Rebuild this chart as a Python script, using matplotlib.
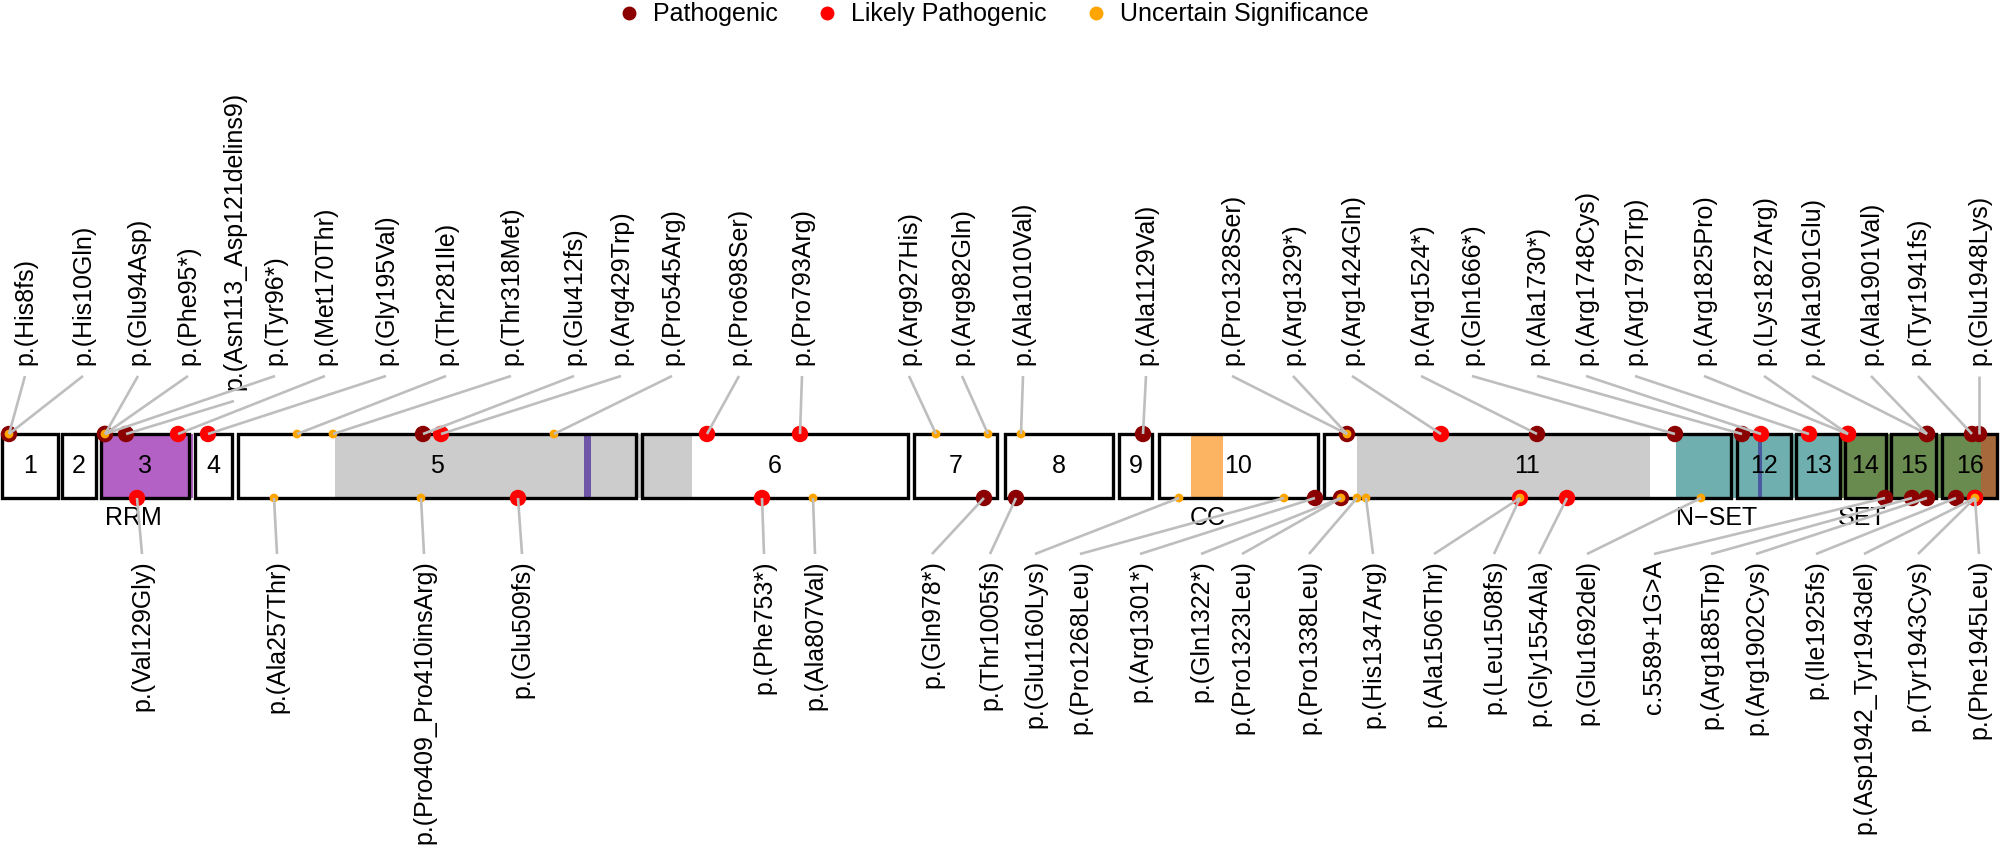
import matplotlib
matplotlib.use("Agg")
import matplotlib.pyplot as plt
from matplotlib.patches import Rectangle
from matplotlib.lines import Line2D

plt.rcParams['font.family'] = ['Liberation Sans', 'DejaVu Sans']

# ---------------- data (positions in plot units along the protein track) -------------
exon_names = [str(i) for i in range(1, 17)]
exon_start = [2, 62, 101, 195, 238, 642, 914, 1005, 1119, 1159, 1324, 1737, 1796, 1845, 1891, 1942]
exon_end = [58, 96, 189, 232, 636, 908, 997, 1113, 1152, 1318, 1731, 1791, 1840, 1886, 1936, 1997]

domain_start = [101, 335, 1357, 584, 1191, 1676, 1758, 1842, 1981]
domain_end = [193, 692, 1650, 591, 1223, 1840, 1762, 1981, 1997]
domain_color = ['#B361C4', '#CCCCCC', '#CCCCCC', '#6E55A8', '#FDB462',
                '#70AFAF', '#4A5AA0', '#698B50', '#A5693C']

domain_labels = ['RRM', 'CC', 'N\u2212SET', 'SET']
domain_label_x = [133, 1208, 1717, 1862]

top_labels = ["p.(His8fs)", "p.(His10Gln)", "p.(Glu94Asp)", "p.(Phe95*)",
              "p.(Asn113_Asp121delins9)", "p.(Tyr96*)", "p.(Met170Thr)", "p.(Gly195Val)",
              "p.(Thr281Ile)", "p.(Thr318Met)", "p.(Glu412fs)", "p.(Arg429Trp)",
              "p.(Pro545Arg)", "p.(Pro698Ser)", "p.(Pro793Arg)", "p.(Arg927His)",
              "p.(Arg982Gln)", "p.(Ala1010Val)", "p.(Ala1129Val)", "p.(Pro1328Ser)",
              "p.(Arg1329*)", "p.(Arg1424Gln)", "p.(Arg1524*)", "p.(Gln1666*)",
              "p.(Ala1730*)", "p.(Arg1748Cys)", "p.(Arg1792Trp)", "p.(Arg1825Pro)",
              "p.(Lys1827Arg)", "p.(Ala1901Glu)", "p.(Ala1901Val)", "p.(Tyr1941fs)",
              "p.(Glu1948Lys)"]
top_label_x = [25, 83, 138, 188, 234, 275, 325, 386, 446, 511, 574, 621, 672, 739, 802,
               909, 962, 1023, 1146, 1232, 1293, 1352, 1421, 1472, 1537, 1586, 1635,
               1704, 1764, 1812, 1871, 1918, 1979]
top_pos = [9, 9, 105, 105, 126, 105, 178, 208, 297, 333, 423, 441, 554, 707, 800, 936,
           988, 1021, 1143, 1347, 1347, 1441, 1537, 1675, 1742, 1761, 1809, 1848, 1848,
           1927, 1927, 1972, 1979]
top_class = ["P", "US", "US", "P", "P", "P", "LP", "LP", "US", "US", "P", "LP", "US",
             "LP", "LP", "US", "US", "US", "P", "US", "P", "LP", "P", "P", "P", "LP",
             "LP", "LP", "LP", "P", "P", "P", "P"]

bottom_labels = ["p.(Val129Gly)", "p.(Ala257Thr)", "p.(Pro409_Pro410insArg)", "p.(Glu509fs)",
                 "p.(Phe753*)", "p.(Ala807Val)", "p.(Gln978*)", "p.(Thr1005fs)",
                 "p.(Glu1160Lys)", "p.(Pro1268Leu)", "p.(Arg1301*)", "p.(Gln1322*)",
                 "p.(Pro1323Leu)", "p.(Pro1338Leu)", "p.(His1347Arg)", "p.(Ala1506Thr)",
                 "p.(Leu1508fs)", "p.(Gly1554Ala)", "p.(Glu1692del)", "c.5589+1G>A",
                 "p.(Arg1885Trp)", "p.(Arg1902Cys)", "p.(Ile1925fs)",
                 "p.(Asp1942_Tyr1943del)", "p.(Tyr1943Cys)", "p.(Phe1945Leu)"]
bottom_label_x = [142, 277, 424, 522, 764, 815, 932, 990, 1035, 1080, 1140, 1201, 1242,
                  1309, 1373, 1434, 1494, 1539, 1587, 1654, 1711, 1756, 1816, 1864,
                  1918, 1979]
bottom_pos = [137, 274, 421, 518, 762, 813, 984, 1016, 1179, 1284, 1315, 1341, 1341,
              1357, 1366, 1520, 1520, 1567, 1701, 1885, 1912, 1927, 1956, 1975, 1975, 1975]
bottom_class = ["LP", "US", "US", "LP", "LP", "US", "P", "P", "US", "US", "P", "P", "US",
                "US", "US", "US", "LP", "LP", "US", "P", "P", "P", "P", "P", "LP", "US"]

class_order = ["P", "LP", "US"]
class_name = {"P": "Pathogenic", "LP": "Likely Pathogenic", "US": "Uncertain Significance"}
class_color = {"P": "#8B0000", "LP": "#FF0000", "US": "#FFA500"}
class_size = {"P": 140, "LP": 140, "US": 40}

# ---------------- layout ----------------
W, H = 2000, 846
fig = plt.figure(figsize=(W / 100, H / 100), dpi=100)
ax = fig.add_axes([0, 0, 1, 1])
ax.set_xlim(0, W)
ax.set_ylim(H, 0)
ax.axis('off')

box_top, box_bot = 434, 498
box_mid = (box_top + box_bot) / 2
top_text_y = 365
bot_text_y = 560
bot_line_y = 554
fs = 18

# domains
for x0, x1, c in zip(domain_start, domain_end, domain_color):
    ax.add_patch(Rectangle((x0, box_top), x1 - x0, box_bot - box_top,
                           facecolor=c, edgecolor='none', zorder=1))

# exons
for name, x0, x1 in zip(exon_names, exon_start, exon_end):
    ax.add_patch(Rectangle((x0, box_top), x1 - x0, box_bot - box_top,
                           facecolor='none', edgecolor='black', lw=2.4, zorder=2))
    ax.text((x0 + x1) / 2, box_mid, name, ha='center', va='center', fontsize=18, zorder=3)

for lab, x in zip(domain_labels, domain_label_x):
    ax.text(x, 518, lab, ha='center', va='center', fontsize=18, zorder=3)

# top variants
for lab, lx, px in zip(top_labels, top_label_x, top_pos):
    ty = top_text_y + (25 if 'delins' in lab else 0)
    ax.text(lx, ty, lab, rotation=90, ha='center', va='bottom', fontsize=fs)
    ax.plot([lx, px], [ty + 11, box_top], color='#BEBEBE', lw=1.9, zorder=6,
            solid_capstyle='butt')

# bottom variants
for lab, lx, px in zip(bottom_labels, bottom_label_x, bottom_pos):
    ax.text(lx, bot_text_y, lab, rotation=90, ha='center', va='top', fontsize=fs)
    ax.plot([px, lx], [box_bot, bot_line_y], color='#BEBEBE', lw=1.9, zorder=6,
            solid_capstyle='butt')

# markers
for cls in class_order:
    xs = [p for p, c in zip(top_pos, top_class) if c == cls]
    ax.scatter(xs, [box_top] * len(xs), s=class_size[cls], color=class_color[cls],
               edgecolors='none', zorder=5)
    xs = [p for p, c in zip(bottom_pos, bottom_class) if c == cls]
    ax.scatter(xs, [box_bot] * len(xs), s=class_size[cls], color=class_color[cls],
               edgecolors='none', zorder=5)

handles = [Line2D([], [], marker='o', ls='none', color=class_color[c], markersize=9,
                  label=class_name[c]) for c in class_order]
ax.legend(handles=handles, loc='upper center', bbox_to_anchor=(0.497, 1.018), ncol=3,
          frameon=False, fontsize=18, handlelength=0.8, handletextpad=0.56,
          columnspacing=1.56, borderpad=0.2)

fig.savefig('out.png', dpi=100)
